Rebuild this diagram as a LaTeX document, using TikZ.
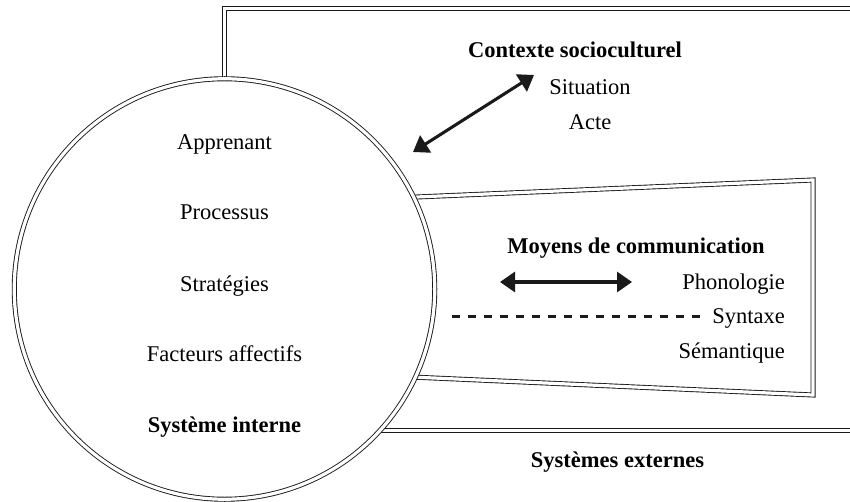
\documentclass[tikz,border=0pt]{standalone}
\usepackage{fontspec}
\setmainfont{Liberation Serif}
\usetikzlibrary{arrows.meta}
\definecolor{ink}{HTML}{1A1A1A}
\tikzset{dbl/.style={draw=ink,line width=0.9pt,double=white,double distance=3.2pt},
  lbl/.style={font=\fontsize{22.5}{26}\selectfont,inner sep=0pt,anchor=base},
  blbl/.style={lbl,font=\fontsize{22.5}{26}\selectfont\bfseries},
  rlbl/.style={lbl,anchor=base east},
  biarr/.style={ink,line width=3.1pt,{Triangle[length=15pt,width=20pt]}-{Triangle[length=15pt,width=20pt]}}}
\begin{document}
\begin{tikzpicture}[x=1pt,y=-1pt]
\useasboundingbox (0,0) rectangle (850,502);
\clip (0,0) rectangle (850,502);
\coordinate (c) at (224.5,289);
% frames of the external systems
\draw[dbl] (c) -- (224.5,8.5) -- (870,8.5); \draw[dbl] (224.5,430.5) -- (870,430.5);
\draw[dbl] (300,202) -- (813,180) -- (813,395) -- (300,372) -- cycle;
% internal system
\node[circle,dbl,fill=white,minimum size=420.5pt,inner sep=0pt] (sys) at (c) {};
\node[lbl] (app) at (224.5,150) {Apprenant}; \node[lbl] (proc) at (224.5,220) {Processus};
\node[lbl] (strat) at (224.5,291) {Stratégies}; \node[lbl] (fact) at (224.5,361) {Facteurs affectifs};
\node[blbl] (int) at (224.5,432) {Système interne};
% socio-cultural context
\node[blbl] (ctx) at (575,58) {Contexte socioculturel};
\node[lbl] (sit) at (590,95) {Situation}; \node[lbl] (acte) at (590,130) {Acte};
\coordinate (a1) at (413,152); \coordinate (a2) at (534,75);
\draw[biarr] (a1) -- (a2);
% means of communication
\node[blbl] (moy) at (636,254) {Moyens de communication};
\node[rlbl] (pho) at (785,289) {Phonologie}; \node[rlbl] (syn) at (785,323) {Syntaxe};
\node[rlbl] (sem) at (785,358) {Sémantique};
\coordinate (b1) at (500,282); \coordinate (b2) at (632,282);
\draw[biarr] (b1) -- (b2);
\coordinate (d1) at (452,316.7); \coordinate (d2) at (700,316.7);
\draw[ink,line width=3.4pt,dash pattern=on 8.3pt off 7.7pt] (d1) -- (d2);
\node[blbl] (ext) at (617.5,467) {Systèmes externes};
\end{tikzpicture}
\end{document}
